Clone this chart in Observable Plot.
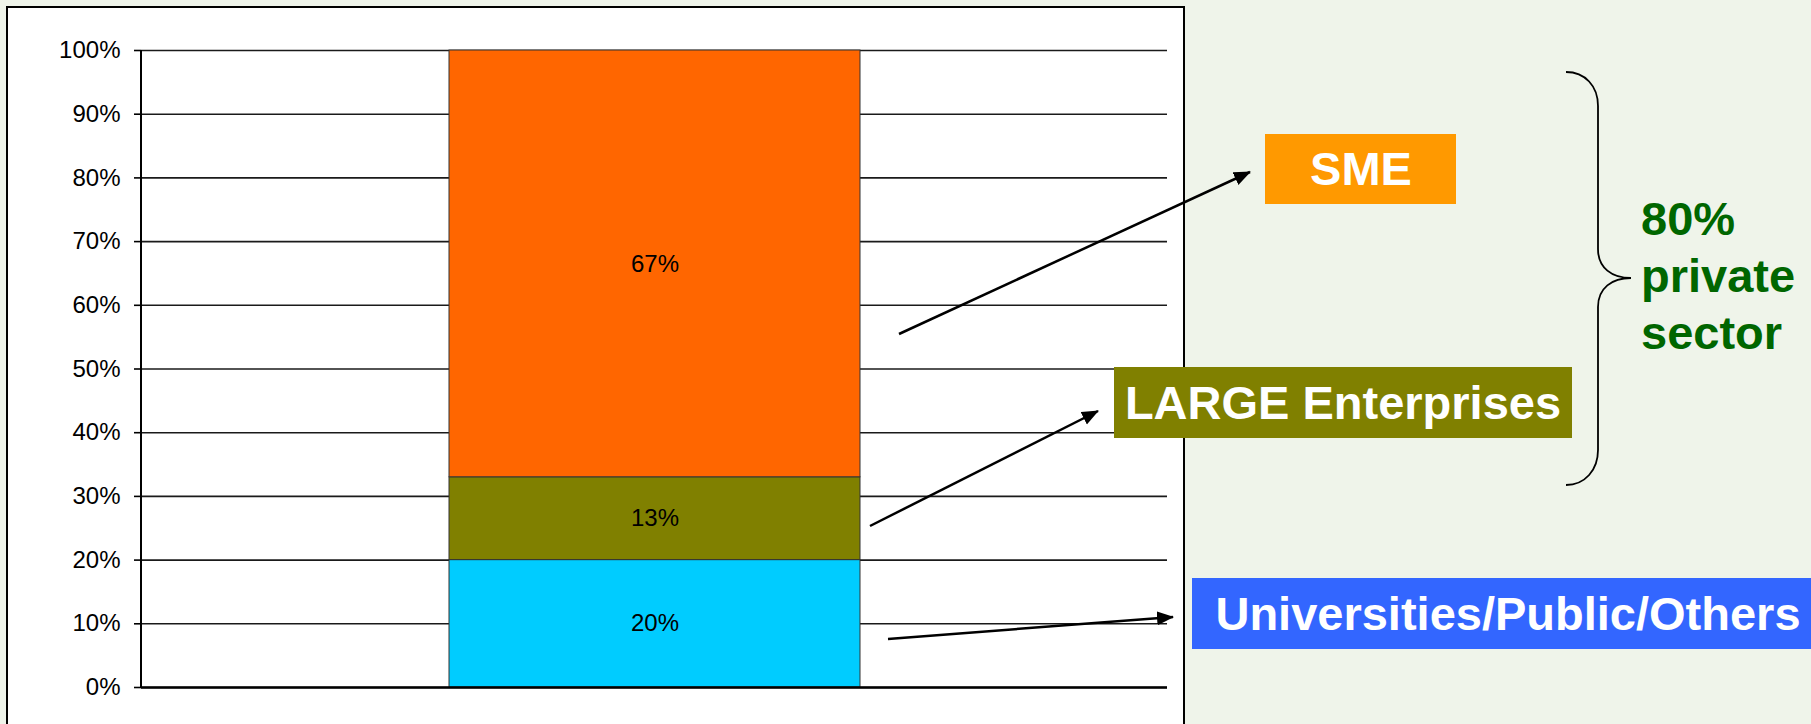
<!DOCTYPE html>
<html>
<head>
<meta charset="utf-8">
<script src="https://cdn.jsdelivr.net/npm/d3@7"></script>
<script src="https://cdn.jsdelivr.net/npm/@observablehq/plot@0.6"></script>
<style>
  html, body { margin: 0; padding: 0; background: #EFF4EA; }
  #chart { position: relative; width: 1811px; height: 724px; overflow: hidden; }
</style>
</head>
<body>
<div id="chart"></div>
<script>
// ---- data ----
const groups = [""];
const segments = ["Universities/Public/Others", "LARGE Enterprises", "SME"];
const shares = [0.20, 0.13, 0.67];
const yTicks = [0, 0.1, 0.2, 0.3, 0.4, 0.5, 0.6, 0.7, 0.8, 0.9, 1.0];
const labelTexts = ["SME", "LARGE Enterprises", "Universities/Public/Others"];
const braceText = ["80%", "private", "sector"];

// ---- styles ----
const segmentColors = ["#00CCFF", "#808000", "#FF6600"];
const fontFamily = "'Liberation Sans', Arial, Helvetica, sans-serif";

const rows = segments.map((s, i) => ({group: groups[0], segment: s, value: shares[i]}));
const pct = d3.format(".0%");

const W = 1811, H = 724;
const chart = Plot.plot({
  width: W,
  height: H,
  marginLeft: 141,
  marginRight: 644,
  marginTop: 50,
  marginBottom: 37,
  style: {background: "transparent", fontFamily, color: "black", overflow: "visible"},
  x: {domain: groups, padding: 0.428, axis: null},
  y: {domain: [0, 1]},
  color: {domain: segments, range: segmentColors},
  marks: [
    Plot.ruleY(yTicks, {stroke: "#1a1a1a", strokeWidth: 1.6}),
    Plot.barY(rows, {x: "group", y: "value", fill: "segment", stroke: "#333", strokeWidth: 1}),
    Plot.ruleY([0], {stroke: "black", strokeWidth: 2.6}),
    Plot.axisY({ticks: yTicks, tickFormat: pct, tickSize: 7, tickPadding: 14, fontSize: 24, stroke: "black", strokeWidth: 1.6, label: null}),
    Plot.text(rows, Plot.stackY({x: "group", y: "value", text: d => pct(d.value), fontSize: 24, fill: "black"}))
  ]
});

const svg = d3.select(chart);
const xs = chart.scale("x"), ys = chart.scale("y");
const yPos = v => ys.apply(v);

// white panel behind the chart
svg.insert("rect", ":first-child")
  .attr("x", 7).attr("y", 7).attr("width", 1177).attr("height", 740)
  .attr("fill", "white").attr("stroke", "black").attr("stroke-width", 2);

// y axis line
svg.append("line")
  .attr("x1", xs.range[0]).attr("x2", xs.range[0])
  .attr("y1", yPos(0)).attr("y2", yPos(1))
  .attr("stroke", "black").attr("stroke-width", 2);

// arrow marker
svg.append("defs").append("marker")
  .attr("id", "ahead").attr("markerUnits", "userSpaceOnUse")
  .attr("markerWidth", 18).attr("markerHeight", 16)
  .attr("refX", 16).attr("refY", 7).attr("orient", "auto")
  .append("path").attr("d", "M0,0 L17,7 L0,14 Z").attr("fill", "black");

// annotation layout (pixels)
const arrows = [
  [899, 334, 1250, 172],
  [870, 526, 1098, 411],
  [888, 639, 1173, 617]
];
const boxes = [
  {x: 1265, y: 134, w: 191, h: 70, fill: "#FF9900"},
  {x: 1114, y: 367, w: 458, h: 71, fill: "#808000"},
  {x: 1192, y: 578, w: 640, h: 71, fill: "#3366FF"}
];
const boxTextX = [1361, 1343, 1508];

const ann = svg.append("g");
arrows.forEach(([x1, y1, x2, y2]) => {
  ann.append("line").attr("x1", x1).attr("y1", y1).attr("x2", x2).attr("y2", y2)
    .attr("stroke", "black").attr("stroke-width", 2.5).attr("marker-end", "url(#ahead)");
});
boxes.forEach((b, i) => {
  ann.append("rect").attr("x", b.x).attr("y", b.y).attr("width", b.w).attr("height", b.h).attr("fill", b.fill);
  ann.append("text").attr("x", boxTextX[i]).attr("y", b.y + b.h / 2)
    .attr("dy", "0.35em").attr("text-anchor", "middle")
    .attr("font-family", fontFamily).attr("font-weight", "bold").attr("font-size", 47)
    .attr("fill", "white").text(labelTexts[i]);
});

// brace
ann.append("path")
  .attr("d", "M1566,72 C1585,72 1598,86 1598,106 L1598,249 C1598,268 1612,278 1631,278 C1612,278 1598,288 1598,307 L1598,450 C1598,470 1585,485 1566,485")
  .attr("fill", "none").attr("stroke", "black").attr("stroke-width", 1.8);

const bt = ann.append("text").attr("font-family", fontFamily).attr("font-weight", "bold")
  .attr("font-size", 47).attr("fill", "#006600").attr("text-anchor", "start");
braceText.forEach((t, i) => {
  bt.append("tspan").attr("x", 1641).attr("y", 235 + i * 57).attr("text-anchor", "start").text(t);
});

document.getElementById("chart").appendChild(chart);
</script>
</body>
</html>
